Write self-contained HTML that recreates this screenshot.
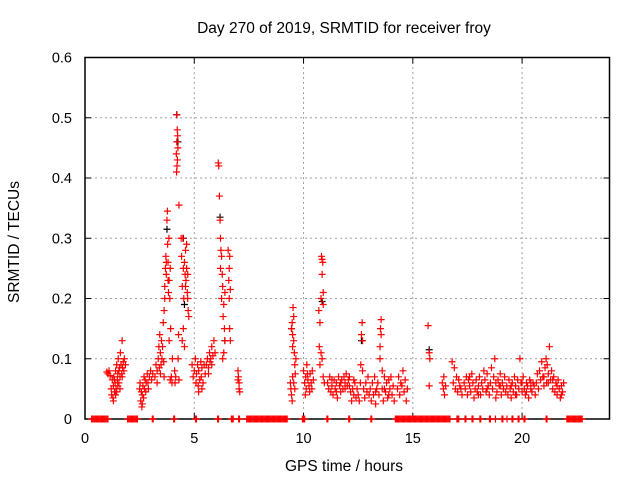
<!DOCTYPE html>
<html><head><meta charset="utf-8">
<style>
html,body{margin:0;padding:0;background:#fff;}
svg{display:block;font-family:"Liberation Sans",sans-serif;}
</style></head>
<body>
<svg id="chart" width="640" height="480" viewBox="0 0 640 480" xmlns="http://www.w3.org/2000/svg">
<rect x="0" y="0" width="640" height="480" fill="#fff"/>
<g id="grid"></g>
<g id="axes"></g>
<g id="marks"></g>
<text x="344" y="33" text-anchor="middle" font-size="15.5" fill="#000">Day 270 of 2019, SRMTID for receiver froy</text>
<text x="344" y="471" text-anchor="middle" font-size="15.5" fill="#000">GPS time / hours</text>
<text transform="translate(19,242) rotate(-90)" text-anchor="middle" font-size="15.5" fill="#000">SRMTID / TECUs</text>
</svg>
<script>
const xTicks = [0, 5, 10, 15, 20];
const yTicks = [0, 0.1, 0.2, 0.3, 0.4, 0.5, 0.6];
const yTickLabels = ["0", "0.1", "0.2", "0.3", "0.4", "0.5", "0.6"];
const zeroTimes = [0.3,0.35,0.4,0.45,0.5,0.55,0.6,0.65,0.7,0.75,0.8,0.85,0.9,0.95,1.0,1.05,
1.95,2.0,2.05,2.1,2.15,2.2,2.25,2.3,2.35,2.4,3.08,3.12,4.06,4.1,5.06,5.1,6.07,6.11,6.7,6.74,6.78,7.03,7.07,
7.4,7.45,7.5,7.55,7.6,7.65,7.7,7.75,7.8,7.85,7.9,7.95,8.0,8.05,8.1,8.15,8.2,8.25,8.3,8.35,8.4,8.45,8.5,8.55,8.6,8.65,8.7,8.75,8.8,8.85,8.9,8.95,9.0,9.05,9.1,9.15,9.2,9.25,
9.95,10.0,10.05,11.07,11.11,12.07,12.11,13.08,13.12,
14.2,14.25,14.3,14.35,14.4,14.45,14.5,14.55,14.6,14.65,14.7,14.75,14.8,14.85,14.9,14.95,15.0,15.05,15.1,15.15,15.2,15.25,15.3,15.35,15.4,15.45,15.5,15.55,15.6,15.65,15.7,15.75,15.8,15.85,15.9,15.95,16.0,16.05,16.1,16.15,16.2,16.25,16.3,16.35,16.4,16.45,16.5,16.55,16.6,16.65,16.7,
17.02,17.06,17.1,17.39,17.43,17.71,17.75,18.07,18.11,18.51,18.55,18.78,19.08,19.12,19.31,19.54,19.58,19.82,19.86,20.09,20.13,21.1,21.14,
22.05,22.1,22.15,22.2,22.25,22.3,22.35,22.4,22.45,22.5,22.55,22.6,22.65,22.7,22.75];
const c1 = [[1.0,.078],[1.05,.075],[1.1,.08],[1.15,.072],[1.2,.05],[1.22,.04],[1.25,.065],[1.28,.035],[1.3,.055],[1.32,.07],[1.35,.045],[1.38,.06],[1.4,.08],[1.42,.05],[1.45,.09],[1.48,.065],[1.5,.075],[1.52,.1],[1.55,.06],[1.58,.085],[1.6,.07],[1.62,.11],[1.65,.09],[1.68,.075],[1.7,.13],[1.72,.085],[1.75,.095],[1.78,.08],[1.8,.1],[1.85,.09],[1.3,.03],[1.45,.045],[1.6,.05],[1.35,.065],[1.55,.08],[1.7,.07],[1.4,.04],[1.5,.055]];
const c2 = [[2.5,.05],[2.52,.06],[2.55,.03],[2.58,.045],[2.6,.02],[2.62,.04],[2.65,.055],[2.68,.035],[2.7,.07],[2.72,.05],[2.75,.065],[2.8,.06],[2.85,.075],[2.9,.05],[2.95,.07],[3.0,.08],[3.05,.065],[3.1,.075],[2.62,.025],[2.78,.045],[2.88,.06]];
const c3 = [[3.2,.07],[3.25,.09],[3.3,.08],[3.35,.1],[3.38,.12],[3.4,.085],[3.42,.14],[3.45,.11],[3.48,.09],[3.5,.13],[3.52,.1],[3.55,.12],[3.58,.16],[3.6,.095],[3.62,.07],[3.65,.2],[3.3,.06],[3.45,.075]];
const c4 = [[3.62,.18],[3.65,.22],[3.68,.25],[3.7,.27],[3.72,.24],[3.75,.33],[3.77,.345],[3.78,.29],[3.8,.26],[3.82,.21],[3.84,.3],[3.85,.23],[3.88,.2],[3.9,.25],[3.92,.15],[3.85,.13],[3.95,.07],[3.98,.06],[4.0,.1],[3.9,.065],[3.72,.26],[3.8,.23]];
const c5 = [[4.1,.08],[4.12,.06],[4.15,.07],[4.2,.505],[4.22,.48],[4.2,.46],[4.24,.47],[4.18,.44],[4.23,.43],[4.21,.42],[4.19,.41],[4.25,.45],[4.3,.355],[4.26,.1],[4.28,.14],[4.3,.065]];
const c6 = [[4.4,.3],[4.42,.27],[4.45,.22],[4.48,.3],[4.5,.25],[4.52,.2],[4.55,.26],[4.58,.24],[4.6,.28],[4.62,.23],[4.65,.29],[4.68,.21],[4.7,.2],[4.72,.18],[4.75,.17],[4.5,.15],[4.55,.12],[4.45,.13],[4.6,.22],[4.65,.25],[4.7,.24]];
const c7 = [[4.9,.09],[4.95,.07],[5.0,.08],[5.05,.1],[5.08,.06],[5.1,.075],[5.15,.09],[5.18,.055],[5.2,.08],[5.25,.065],[5.3,.095],[5.32,.07],[5.35,.085],[5.4,.06],[5.45,.09],[5.5,.075],[5.2,.045],[5.35,.05]];
const c8 = [[5.55,.09],[5.6,.1],[5.65,.085],[5.7,.11],[5.72,.095],[5.75,.1],[5.8,.12],[5.85,.105],[5.9,.13],[5.95,.11],[5.65,.075],[5.8,.09]];
const c9 = [[6.1,.425],[6.12,.42],[6.15,.37],[6.18,.33],[6.2,.3],[6.22,.28],[6.2,.25],[6.25,.27],[6.28,.24],[6.25,.2],[6.3,.22],[6.35,.19],[6.32,.17],[6.38,.15],[6.4,.13],[6.35,.11],[6.3,.1],[6.4,.21]];
const c10 = [[6.55,.28],[6.6,.25],[6.58,.23],[6.62,.27],[6.65,.215],[6.6,.2],[6.65,.13],[6.62,.15],[7.0,.08],[7.02,.07],[7.05,.06],[7.05,.05],[7.08,.045],[7.0,.065]];
const c11 = [[9.4,.06],[9.42,.05],[9.45,.15],[9.48,.16],[9.5,.14],[9.5,.12],[9.52,.185],[9.55,.17],[9.55,.13],[9.58,.11],[9.6,.09],[9.5,.07],[9.45,.04],[9.55,.06],[9.6,.05],[9.62,.075],[9.48,.03],[9.65,.1]];
const c12 = [[10.0,.08],[10.05,.06],[10.1,.07],[10.12,.05],[10.15,.09],[10.2,.065],[10.25,.055],[10.3,.075],[10.35,.06],[10.4,.08],[10.45,.065],[10.08,.04],[10.28,.045],[10.18,.075],[10.38,.05]];
const c13 = [[10.7,.18],[10.75,.16],[10.72,.12],[10.8,.2],[10.82,.27],[10.85,.265],[10.88,.26],[10.85,.24],[10.9,.21],[10.9,.19],[10.8,.11],[10.85,.1],[10.75,.09],[10.9,.07],[10.95,.06]];
const c14 = [[11.1,.06],[11.15,.05],[11.2,.07],[11.25,.045],[11.3,.055],[11.35,.04],[11.4,.065],[11.45,.05],[11.5,.06],[11.55,.035],[11.6,.07],[11.65,.055],[11.7,.045],[11.75,.065],[11.8,.05],[11.85,.07],[11.9,.06],[11.95,.075],[12.0,.055],[12.05,.065],[12.1,.07],[12.15,.045],[12.2,.03],[12.25,.05],[12.3,.04],[12.35,.06],[12.4,.035],[12.45,.05],[11.3,.065],[11.5,.045],[11.7,.06],[11.9,.05],[12.1,.055],[12.3,.065]];
const c15 = [[12.5,.04],[12.55,.03],[12.6,.06],[12.62,.09],[12.65,.14],[12.68,.16],[12.7,.13],[12.7,.08],[12.75,.05],[12.8,.035],[12.85,.06],[12.9,.045],[12.95,.07],[13.0,.04]];
const c16 = [[13.05,.05],[13.1,.03],[13.15,.06],[13.2,.04],[13.25,.07],[13.3,.025],[13.35,.05],[13.4,.06],[13.45,.04],[13.5,.12],[13.52,.15],[13.55,.165],[13.55,.14],[13.5,.1],[13.6,.08],[13.6,.05],[13.65,.03],[13.7,.07],[13.75,.045],[13.8,.06],[13.85,.035],[13.9,.065],[13.95,.05],[14.0,.07],[14.05,.04],[14.1,.055],[14.15,.03],[13.3,.045],[13.7,.05],[13.9,.04]];
const c17 = [[14.3,.05],[14.35,.07],[14.4,.04],[14.45,.06],[14.5,.055],[14.55,.08],[14.6,.045],[14.65,.065],[14.7,.03],[14.75,.05]];
const c18 = [[15.7,.155],[15.75,.11],[15.78,.1],[15.75,.055]];
const c19 = [[16.35,.06],[16.4,.05],[16.42,.07],[16.45,.04],[16.5,.055],[16.8,.095],[16.85,.06],[16.9,.085],[16.95,.05],[17.0,.07],[17.05,.045],[17.1,.065],[17.15,.055],[17.2,.05],[17.25,.04]];
const c20 = [[17.35,.06],[17.4,.05],[17.45,.07],[17.5,.04],[17.55,.065],[17.6,.055],[17.65,.045],[17.7,.075],[17.75,.06],[17.8,.035],[17.85,.05],[17.9,.065],[17.95,.045],[18.0,.055],[18.05,.07],[18.1,.04],[18.15,.06],[18.2,.05],[18.25,.08],[18.3,.065],[18.35,.045],[18.4,.075],[18.45,.055],[18.5,.04],[18.55,.06],[18.6,.085],[18.65,.05],[18.7,.07],[18.75,.1],[18.8,.06],[18.85,.045],[18.9,.065],[18.95,.055],[19.0,.075],[19.05,.04],[19.1,.06],[19.15,.05],[19.2,.07],[19.25,.045],[17.6,.07],[18.0,.04],[18.4,.05],[18.8,.035],[19.0,.055]];
const c21 = [[19.3,.055],[19.35,.04],[19.4,.065],[19.45,.05],[19.5,.035],[19.55,.06],[19.6,.045],[19.65,.07],[19.7,.055],[19.75,.04],[19.8,.065],[19.85,.05],[19.9,.1],[19.95,.06],[20.0,.045],[20.05,.07],[20.1,.05],[20.15,.04],[20.2,.06],[20.25,.055],[20.3,.035],[20.35,.065],[20.4,.05],[20.45,.045],[20.5,.06],[20.55,.055],[20.6,.04],[19.5,.055],[19.7,.04],[20.0,.06],[20.2,.045],[20.4,.06]];
const c22 = [[20.65,.06],[20.7,.075],[20.75,.05],[20.8,.08],[20.85,.065],[20.9,.095],[20.95,.07],[21.0,.055],[21.05,.085],[21.1,.1],[21.12,.06],[21.15,.09],[21.2,.075],[21.25,.12],[21.3,.065],[21.35,.08],[21.4,.05],[21.45,.07],[21.5,.045],[21.55,.06],[21.6,.04],[21.65,.065],[21.7,.05],[21.75,.035],[21.8,.055],[21.85,.045],[21.9,.06],[21.0,.07],[21.2,.06],[21.4,.065],[21.6,.055],[21.8,.04]];
const blackPts = [[4.2,.505],[3.75,.315],[6.18,.335],[10.85,.195],[4.25,.46],[6.4,.13],[4.5,.3],[12.65,.13],[9.45,.15],[15.75,.115],[4.55,.19]];

const NS = "http://www.w3.org/2000/svg";
const X0 = 85, X1 = 609.5, Y0 = 419, Y1 = 57.5;
const XMIN = 0, XMAX = 24, YMIN = 0, YMAX = 0.6;
function sx(t){ return X0 + (t - XMIN) / (XMAX - XMIN) * (X1 - X0); }
function sy(v){ return Y0 - (v - YMIN) / (YMAX - YMIN) * (Y0 - Y1); }
function mk(tag, attrs, parent){ const e = document.createElementNS(NS, tag); for (const k in attrs) e.setAttribute(k, attrs[k]); parent.appendChild(e); return e; }

const grid = document.getElementById('grid');
const axes = document.getElementById('axes');
const marks = document.getElementById('marks');

yTicks.forEach((v, i) => {
  const y = sy(v);
  if (i > 0 && i < yTicks.length - 1) {
    const g = mk('line', {x1: X0, x2: X1, y1: y, y2: y, stroke: '#a0a0a0', 'stroke-dasharray': '2,3', 'stroke-width': 1}, grid);
    
    
  }
  const t1 = mk('line', {x1: X0, x2: X0 + 6, y1: y, y2: y, stroke: '#000'}, axes);
  
  
  const t2 = mk('line', {x1: X1 - 6, x2: X1, y1: y, y2: y, stroke: '#000'}, axes);
  
  
  const lb = mk('text', {x: X0 - 13, y: y + 5, 'text-anchor': 'end', 'font-size': 14.5, fill: '#000'}, axes);
  lb.textContent = yTickLabels[i];
  
  
});
xTicks.forEach((t, i) => {
  const x = sx(t);
  if (i > 0) {
    const g = mk('line', {x1: x, x2: x, y1: Y0, y2: Y1, stroke: '#a0a0a0', 'stroke-dasharray': '2,3', 'stroke-width': 1}, grid);
    
    
  }
  const t1 = mk('line', {x1: x, x2: x, y1: Y0, y2: Y0 - 6, stroke: '#000'}, axes);
  
  
  const t2 = mk('line', {x1: x, x2: x, y1: Y1, y2: Y1 + 6, stroke: '#000'}, axes);
  
  
  const lb = mk('text', {x: x, y: Y0 + 24, 'text-anchor': 'middle', 'font-size': 14.5, fill: '#000'}, axes);
  lb.textContent = String(t);
  
  
});
const frame = mk('rect', {x: X0, y: Y1, width: X1 - X0, height: Y0 - Y1, fill: 'none', stroke: '#000', 'stroke-width': 1.5}, axes);



function plus(t, v, color, name){
  const x = sx(t), y = sy(v);
  const p = mk('path', {d: `M${x-3.5},${y}H${x+3.5}M${x},${y-3.5}V${y+3.5}`, stroke: color, 'stroke-width': 1.2, fill: 'none'}, marks);
  
  
}
blackPts.forEach(p => plus(p[0], p[1], '#000', 'point-black'));
const clusters = [c1,c2,c3,c4,c5,c6,c7,c8,c9,c10,c11,c12,c13,c14,c15,c16,c17,c18,c19,c20,c21,c22];
clusters.forEach(c => c.forEach(p => plus(p[0], p[1], '#ff0000', 'point-red')));
zeroTimes.forEach(t => plus(t, 0, '#ff0000', 'point-zero'));
</script>
</body></html>
